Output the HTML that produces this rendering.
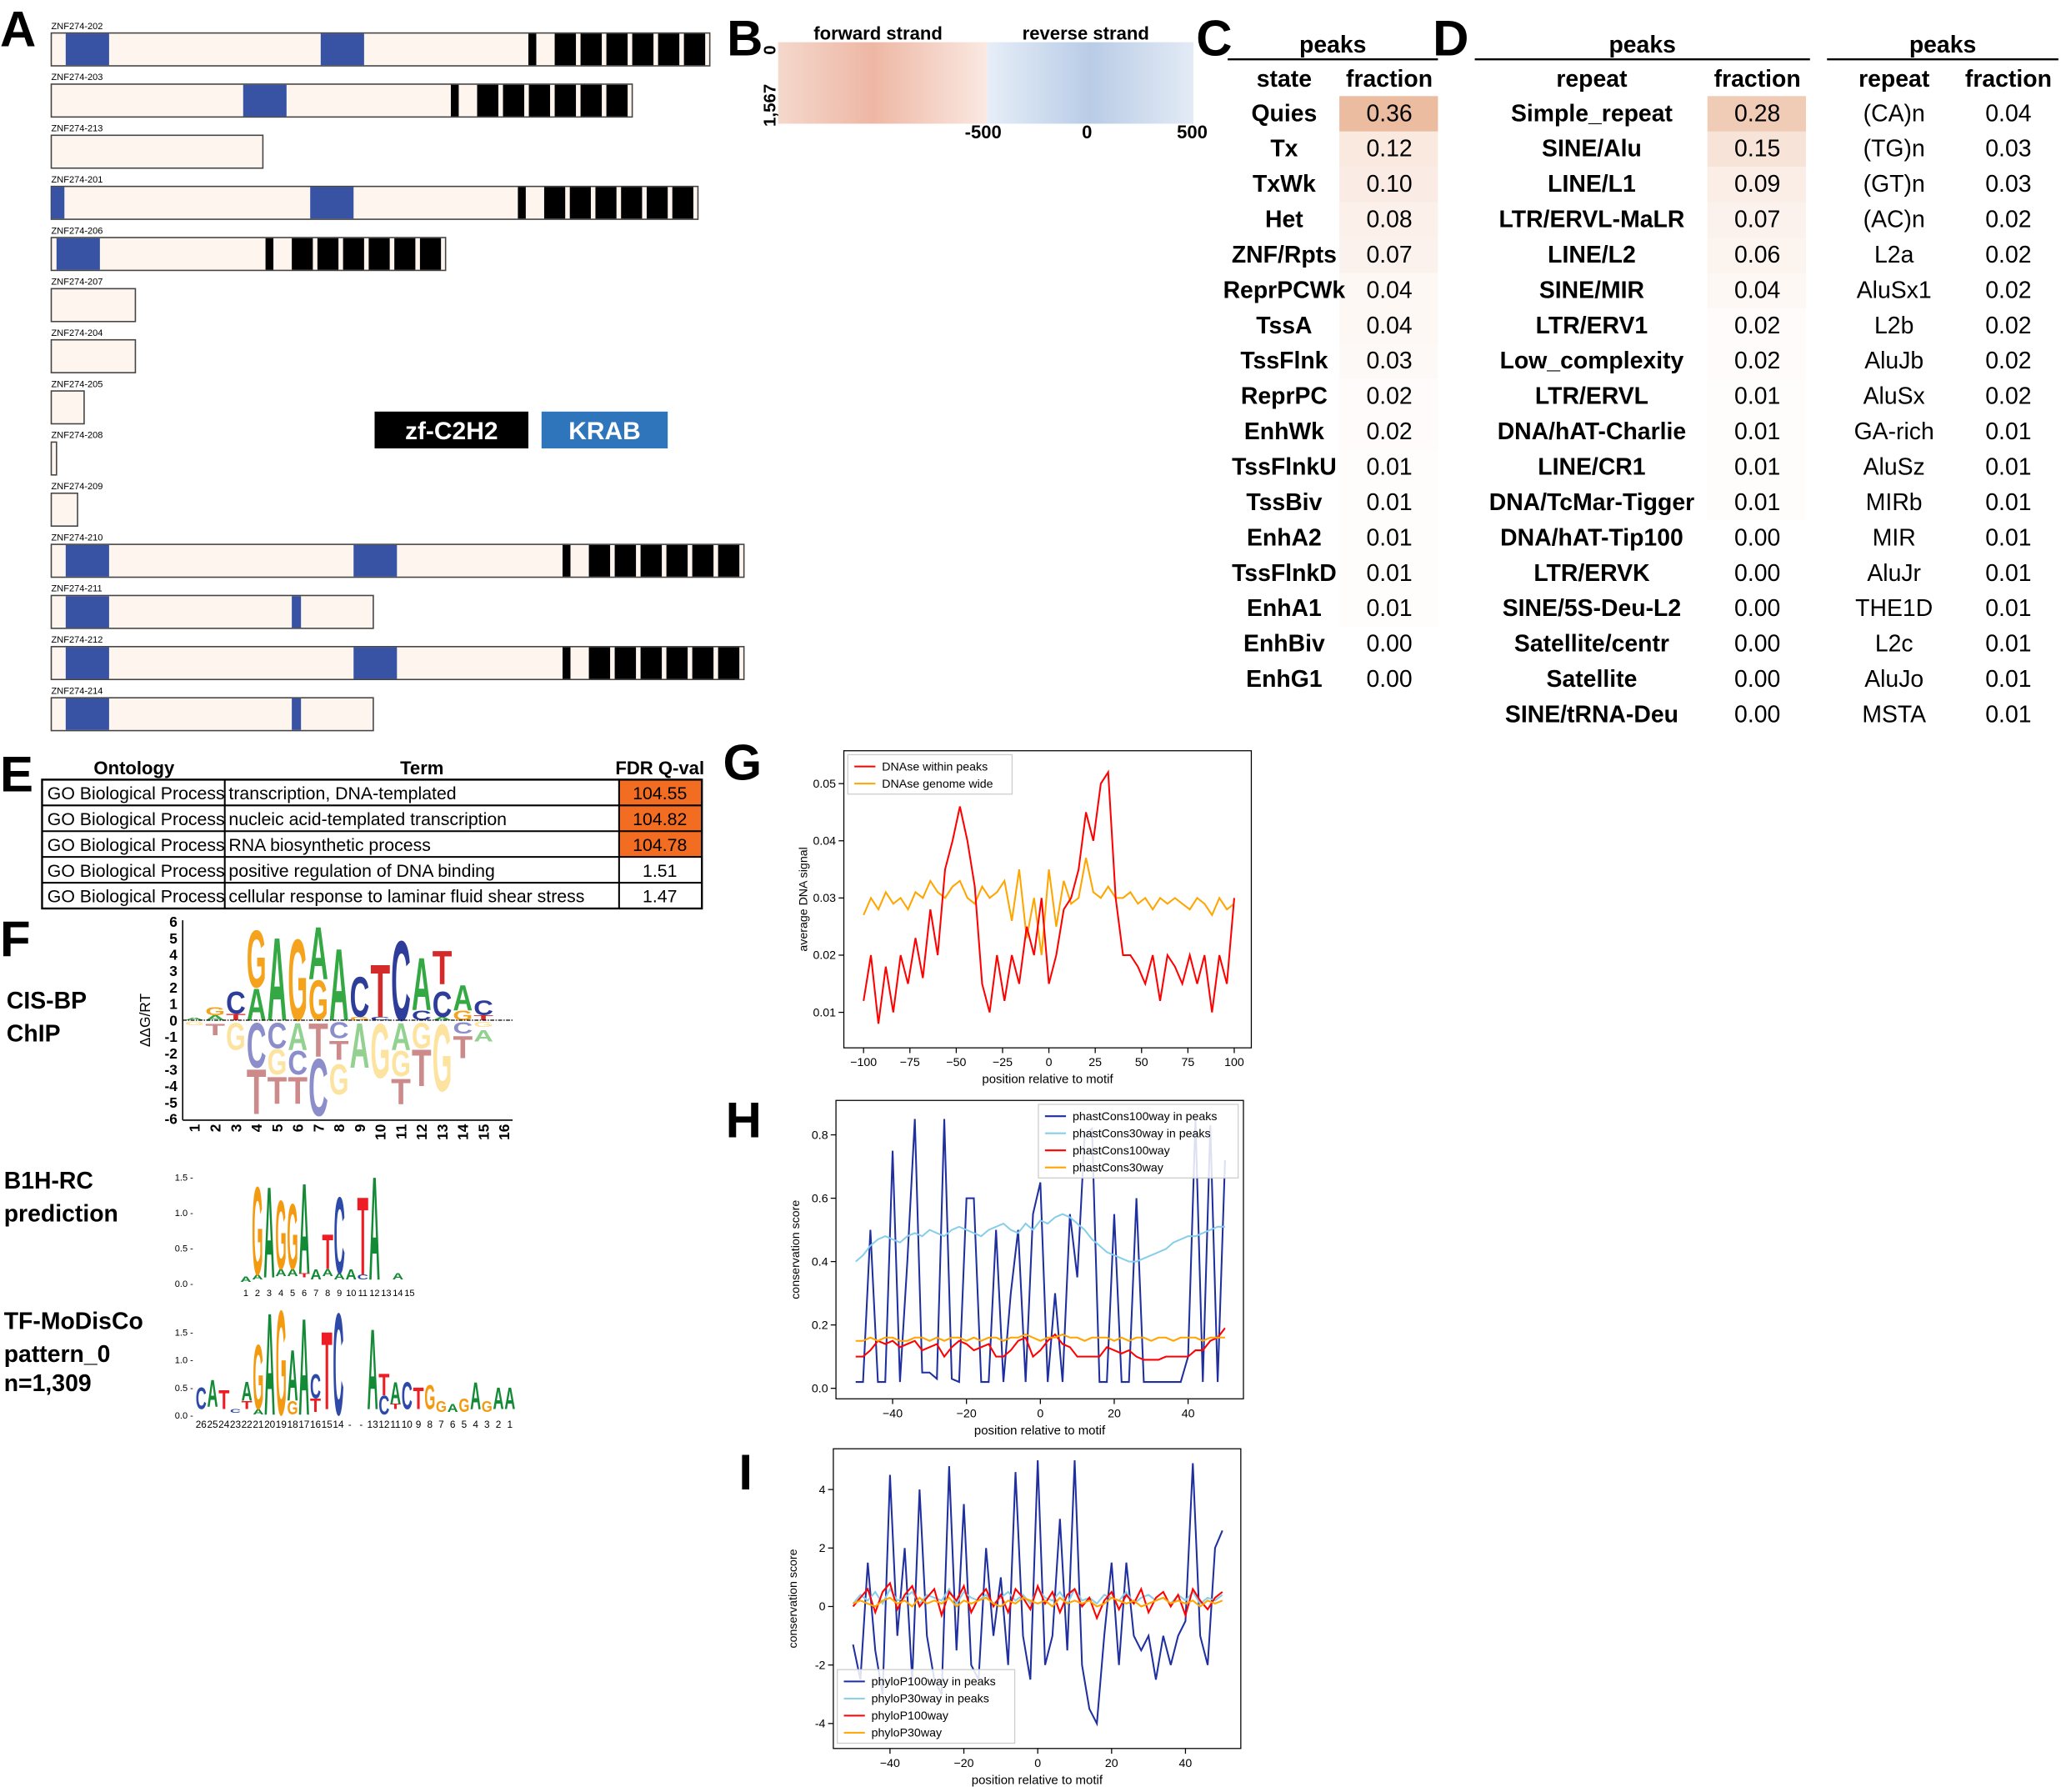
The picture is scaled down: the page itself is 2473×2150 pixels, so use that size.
<!DOCTYPE html>
<html><head><meta charset="utf-8"><style>
html,body{margin:0;padding:0;background:#fff}
svg{display:block}
text{font-family:"Liberation Sans",sans-serif}
</style></head><body>
<svg id="fig" width="2473" height="2150" viewBox="0 0 1568 1363" xmlns="http://www.w3.org/2000/svg">
<g id="panelA"></g>
<g id="panelB"></g>
<g id="panelC"></g>
<g id="panelD"></g>
<g id="panelE"></g>
<g id="panelF"></g>
<g id="panelG"></g>
<g id="panelH"></g>
<g id="panelI"></g>
</svg>
<script>
const NS="http://www.w3.org/2000/svg";
function el(p,tag,a,txt){const e=document.createElementNS(NS,tag);for(const k in a)e.setAttribute(k,a[k]);if(txt!==undefined)e.textContent=txt;p.appendChild(e);return e;}
const svg=document.getElementById('fig');
// panel letters
const letters=[["A",0,35],["B",553,42],["C",910,42],["D",1090,42],["E",0,602],["F",0,727],["G",550,593],["H",552,865],["I",562,1133]];
letters.forEach(l=>{const t=el(svg,'text',{x:l[1],y:l[2],'font-size':38,'font-weight':'bold'},l[0]);

});

// ===== Panel A =====
const isoNames=["ZNF274-202","ZNF274-203","ZNF274-213","ZNF274-201","ZNF274-206","ZNF274-207","ZNF274-204","ZNF274-205","ZNF274-208","ZNF274-209","ZNF274-210","ZNF274-211","ZNF274-212","ZNF274-214"];
const isoEnd=[540,481,200,531,339,103,103,64,43,59,566,284,566,284];
const isoKrab=[[[50,83],[244,277]],[[185,218]],[],[[39,49],[236,269]],[[43,76]],[],[],[],[],[],[[50,83],[269,302]],[[50,83],[222,229]],[[50,83],[269,302]],[[50,83],[222,229]]];
const isoZf=[402,343,null,394,202,null,null,null,null,null,428,null,428,null];
const gA=document.getElementById('panelA');
isoNames.forEach((n,i)=>{
 const y=20+i*38.9;
 const t=el(gA,'text',{x:39,y:y+2,'font-size':7},n);
 
 
 const r=el(gA,'rect',{x:39,y:y+5,width:isoEnd[i]-39,height:25,fill:'#fdf5ee',stroke:'#444','stroke-width':1});
 
 
 isoKrab[i].forEach(k=>{const b=el(gA,'rect',{x:k[0],y:y+5.5,width:k[1]-k[0],height:24,fill:'#3853a4'});
  
  });
 if(isoZf[i]!==null){const s=isoZf[i];
  const b0=el(gA,'rect',{x:s,y:y+5.5,width:6,height:24,fill:'#000'});
  
  
  const blk=(isoEnd[i]-s-20)/6;
  for(let j=0;j<6;j++){const b=el(gA,'rect',{x:s+20+j*blk,y:y+5.5,width:blk-3.5,height:24,fill:'#000'});
   
   }}
});
[["zf-C2H2",285,402,'#000'],["KRAB",412,508,'#2f75bb']].forEach(l=>{
 const r=el(gA,'rect',{x:l[1],y:313,width:l[2]-l[1],height:28,fill:l[3]});
 
 
 const t=el(gA,'text',{x:(l[1]+l[2])/2,y:334,'font-size':19,'font-weight':'bold',fill:'#fff','text-anchor':'middle'},l[0]);
 
 });

// ===== Panel B =====
const gB=document.getElementById('panelB');
const defs=el(svg,'defs',{});
const lgR=el(defs,'linearGradient',{id:'gr',x1:0,x2:1,y1:0,y2:0});
el(lgR,'stop',{offset:0,'stop-color':'#f4d8cc'});el(lgR,'stop',{offset:.45,'stop-color':'#eeb7a4'});el(lgR,'stop',{offset:1,'stop-color':'#fae9e2'});
const lgB=el(defs,'linearGradient',{id:'gb',x1:0,x2:1,y1:0,y2:0});
el(lgB,'stop',{offset:0,'stop-color':'#e6eef8'});el(lgB,'stop',{offset:.5,'stop-color':'#b9cce6'});el(lgB,'stop',{offset:1,'stop-color':'#e3ebf5'});
const hr=el(gB,'rect',{x:592,y:32,width:159,height:62,fill:'url(#gr)'});


const hb=el(gB,'rect',{x:751,y:32,width:157,height:62,fill:'url(#gb)'});


[["forward strand",668,30],["reverse strand",826,30],["-500",748,105],["0",827,105],["500",907,105]].forEach(l=>{
 const t=el(gB,'text',{x:l[1],y:l[2],'font-size':14,'font-weight':'bold','text-anchor':'middle'},l[0]);
 
 });
[["0",38],["1,567",80]].forEach(l=>{const t=el(gB,'text',{x:0,y:0,'font-size':13,'font-weight':'bold','text-anchor':'middle',transform:`translate(590,${l[1]}) rotate(-90)`},l[0]);
 
 });

// ===== Panel C/D tables =====
function heat(v,max){const a=Math.min(1,v/max);const r=Math.round(255-(255-236)*a),g=Math.round(255-(255-188)*a),b=Math.round(255-(255-160)*a);return `rgb(${r},${g},${b})`;}
const cStates=["Quies","Tx","TxWk","Het","ZNF/Rpts","ReprPCWk","TssA","TssFlnk","ReprPC","EnhWk","TssFlnkU","TssBiv","EnhA2","TssFlnkD","EnhA1","EnhBiv","EnhG1"];
const cFrac=[0.36,0.12,0.10,0.08,0.07,0.04,0.04,0.03,0.02,0.02,0.01,0.01,0.01,0.01,0.01,0.00,0.00];
const dRepeat=["Simple_repeat","SINE/Alu","LINE/L1","LTR/ERVL-MaLR","LINE/L2","SINE/MIR","LTR/ERV1","Low_complexity","LTR/ERVL","DNA/hAT-Charlie","LINE/CR1","DNA/TcMar-Tigger","DNA/hAT-Tip100","LTR/ERVK","SINE/5S-Deu-L2","Satellite/centr","Satellite","SINE/tRNA-Deu"];
const dFrac=[0.28,0.15,0.09,0.07,0.06,0.04,0.02,0.02,0.01,0.01,0.01,0.01,0.00,0.00,0.00,0.00,0.00,0.00];
const eRepeat=["(CA)n","(TG)n","(GT)n","(AC)n","L2a","AluSx1","L2b","AluJb","AluSx","GA-rich","AluSz","MIRb","MIR","AluJr","THE1D","L2c","AluJo","MSTA"];
const eFrac=[0.04,0.03,0.03,0.02,0.02,0.02,0.02,0.02,0.02,0.01,0.01,0.01,0.01,0.01,0.01,0.01,0.01,0.01];
function table(g,x0,x1,labX,fracX,cellX0,cellX1,hdr,labs,fr,bold,heatOn){
 let t=el(g,'text',{x:(x0+x1)/2,y:40,'font-size':18,'font-weight':'bold','text-anchor':'middle'},'peaks');
 
 
 el(g,'line',{x1:x0,x2:x1,y1:45,y2:45,stroke:'#000','stroke-width':1.5});
 t=el(g,'text',{x:labX,y:66,'font-size':18,'font-weight':'bold','text-anchor':'middle'},hdr);
 
 
 t=el(g,'text',{x:fracX,y:66,'font-size':18,'font-weight':'bold','text-anchor':'middle'},'fraction');
 
 
 labs.forEach((l,i)=>{const y=86+i*26.9;
  if(heatOn){const c=el(g,'rect',{x:cellX0,y:y-13,width:cellX1-cellX0,height:27,fill:heat(fr[i],0.36)});
   
   }
  let a=el(g,'text',{x:labX,y:y+6,'font-size':18,'font-weight':bold?'bold':'normal','text-anchor':'middle'},l);
  
  
  a=el(g,'text',{x:fracX,y:y+6,'font-size':18,'text-anchor':'middle'},fr[i].toFixed(2));
  
  });
}
table(document.getElementById('panelC'),934,1094,977,1057,1019,1094,'state',cStates,cFrac,true,true);
table(document.getElementById('panelD'),1122,1377,1211,1337,1299,1374,'repeat',dRepeat,dFrac,true,true);
table(document.getElementById('panelD'),1390,1566,1441,1528,0,0,'repeat',eRepeat,eFrac,false,false);

// ===== Panel E =====
const gE=document.getElementById('panelE');
const eTerms=["transcription, DNA-templated","nucleic acid-templated transcription","RNA biosynthetic process","positive regulation of DNA binding","cellular response to laminar fluid shear stress"];
const eQ=[104.55,104.82,104.78,1.51,1.47];
[["Ontology",102],["Term",321],["FDR Q-val",502]].forEach(h=>{const t=el(gE,'text',{x:h[1],y:589,'font-size':14,'font-weight':'bold','text-anchor':'middle'},h[0]);
 
 });
eTerms.forEach((term,i)=>{const y=593+i*19.6;
 const c=el(gE,'rect',{x:471,y:y,width:63,height:19.6,fill:eQ[i]>50?'#f26c22':'#fff'});
 
 
 let t=el(gE,'text',{x:36,y:y+15,'font-size':13.5},'GO Biological Process');
 
 
 t=el(gE,'text',{x:174,y:y+15,'font-size':13.5},term);
 
 
 t=el(gE,'text',{x:502,y:y+15,'font-size':13.5,'text-anchor':'middle'},eQ[i].toFixed(2));
 
 
 el(gE,'line',{x1:32,x2:534,y1:y,y2:y,stroke:'#000','stroke-width':1.3});});
el(gE,'rect',{x:32,y:593,width:502,height:98,fill:'none',stroke:'#000','stroke-width':1.5});
el(gE,'line',{x1:171,x2:171,y1:593,y2:691,stroke:'#000','stroke-width':1.3});
el(gE,'line',{x1:471,x2:471,y1:593,y2:691,stroke:'#000','stroke-width':1.3});

// ===== Panel F logos =====
const gF=document.getElementById('panelF');
const COL={A:'#33a843',C:'#2e3d9a',G:'#f5a31c',T:'#d42a2a'};
const COLF={A:'#92d18f',C:'#8c8ecb',G:'#fde3a0',T:'#cc8a8a'};
const COL2={A:'#138a36',C:'#2e4aa8',G:'#f49a10',T:'#ee1c24'};
// [column, letter, bottom, top] in logo units
const logo1=[[1,'A',0,0.15],[1,'G',-0.05,-0.3],[2,'A',0,0.3],[2,'G',0.3,0.8],[3,'T',0,0.4],[3,'C',0.4,1.8],[4,'A',0,2],[4,'G',2,5.6],[5,'A',0,5.2],[6,'G',0,5.1],[7,'G',0,2.5],[7,'A',2.5,5.8],[8,'A',0,4.5],[9,'G',0,0.2],[9,'C',0.2,2.7],[10,'C',0,0.2],[10,'T',0.2,3.5],[11,'C',0,5],[12,'C',0,0.6],[12,'A',0.6,3.9],[13,'A',0,0.2],[13,'C',0.2,1.8],[13,'T',2.2,4.3],[14,'G',0,0.6],[14,'A',0.6,2.2],[15,'T',0,0.3],[15,'C',0.3,1.2],
[2,'T',-0.2,-0.9],[3,'G',-0.1,-1.8],[4,'C',-0.1,-2.9],[4,'T',-2.9,-5.7],[5,'C',-0.1,-1.7],[5,'G',-1.7,-3.3],[5,'T',-3.4,-5.1],[6,'A',-0.1,-1.8],[6,'C',-1.8,-3.3],[6,'T',-3.4,-5.1],[7,'T',-0.1,-2.2],[7,'C',-2.2,-5.8],[8,'C',-0.1,-1.1],[8,'T',-1.2,-2.4],[8,'G',-2.6,-4.5],[9,'A',-0.1,-2.9],[10,'G',-0.1,-3.5],[11,'A',-0.1,-1.8],[11,'G',-1.8,-3.4],[11,'T',-3.5,-5.1],[12,'G',-0.1,-1.7],[12,'T',-1.7,-4],[13,'G',-0.1,-4.3],[14,'C',-0.1,-0.8],[14,'T',-0.9,-2.3],[15,'G',-0.1,-0.4],[15,'A',-0.6,-1.3]];
const logo2=[[1,'A',0.02,0.1],[2,'A',0.05,0.12],[2,'G',0.12,1.4],[3,'A',0.08,1.4],[4,'A',0.1,0.2],[4,'G',0.2,1.2],[5,'A',0.1,0.2],[5,'G',0.2,1.15],[6,'T',0.08,0.14],[6,'A',0.14,1.45],[7,'A',0.05,0.2],[8,'A',0.1,0.2],[8,'T',0.2,0.7],[9,'A',0.05,0.14],[9,'C',0.14,1.25],[10,'A',0.05,0.2],[11,'C',0.05,0.12],[11,'T',0.12,1.25],[12,'A',0.05,1.55],[14,'A',0.05,0.14]];
const logo3=[[0,'C',0.1,0.5],[1,'A',0.15,0.65],[2,'T',0.1,0.45],[3,'C',0.03,0.1],[4,'T',0.1,0.25],[4,'A',0.25,0.6],[5,'A',0,0.1],[5,'G',0.1,1.3],[6,'A',0,1.9],[7,'G',0,1.95],[8,'G',0,0.25],[8,'A',0.25,1.2],[9,'A',0,1.8],[10,'T',0.05,0.3],[10,'C',0.3,0.75],[11,'T',0.1,1.55],[12,'C',0,1.9],[15,'A',0.1,1.6],[16,'C',0,0.35],[16,'T',0.35,0.75],[17,'T',0.1,0.2],[17,'A',0.2,0.6],[18,'C',0.1,0.6],[19,'T',0.1,0.5],[20,'G',0.1,0.55],[21,'G',0.05,0.25],[22,'A',0.05,0.2],[23,'G',0.05,0.3],[24,'A',0.1,0.6],[25,'G',0.05,0.25],[26,'A',0.1,0.5],[27,'A',0.1,0.5]];
function drawLogo(data,xOf,yOf,w,colFn){
 data.forEach(d=>{const x=xOf(d[0]);const ya=yOf(d[2]),yb=yOf(d[3]);const top=Math.min(ya,yb),h=Math.abs(ya-yb);if(h<0.5)return;
  const fs=h/0.72;const t=el(gF,'text',{x:x-w/2,y:top+h,'font-size':fs,'font-weight':'bold',fill:colFn(d),textLength:w,lengthAdjust:'spacingAndGlyphs'},d[1]);
  
  });
}
const l1x=c=>148+(c-1)*15.7, l1y=v=>776-v*12.5;
drawLogo(logo1,l1x,l1y,15,d=>d[2]<0||d[3]<0?COLF[d[1]]:COL[d[1]]);
el(gF,'line',{x1:139,x2:390,y1:776,y2:776,stroke:'#000','stroke-width':0.8,'stroke-dasharray':'3,1,1,1'});
el(gF,'line',{x1:139,x2:139,y1:700,y2:852,stroke:'#000','stroke-width':1});
el(gF,'line',{x1:139,x2:390,y1:852,y2:852,stroke:'#000','stroke-width':1});
for(let v=-6;v<=6;v++){const t=el(gF,'text',{x:135,y:l1y(v)+4,'font-size':11,'font-weight':'bold','text-anchor':'end'},String(v));
 
 }
for(let c=1;c<=16;c++){const t=el(gF,'text',{x:0,y:0,'font-size':11,'font-weight':'bold','text-anchor':'end',transform:`translate(${l1x(c)+4},855) rotate(-90)`},String(c));
 
 }
let yl=el(gF,'text',{x:0,y:0,'font-size':11,'text-anchor':'middle',transform:'translate(114,776) rotate(-90)'},'ΔΔG/RT');


const l2x=c=>187+(c-1)*8.9, l2y=v=>976-v*54;
drawLogo(logo2,l2x,l2y,8.5,d=>COL2[d[1]]);
[[0,976],[0.5,949],[1,922],[1.5,895]].forEach(a=>{const t=el(gF,'text',{x:147,y:a[1]+3,'font-size':7,'text-anchor':'end'},a[0].toFixed(1)+' -');
 
 });
for(let c=1;c<=15;c++){const t=el(gF,'text',{x:l2x(c),y:986,'font-size':7,'text-anchor':'middle'},String(c));
 
 }
const l3x=i=>153+i*8.7, l3y=v=>1076-v*42;
drawLogo(logo3,l3x,l3y,8.3,d=>COL2[d[1]]);
[[0,1076],[0.5,1055],[1,1034],[1.5,1013]].forEach(a=>{const t=el(gF,'text',{x:147,y:a[1]+3,'font-size':7,'text-anchor':'end'},a[0].toFixed(1)+' -');
 
 });
const l3labels=["26","25","24","23","22","21","20","19","18","17","16","15","14","-","-","13","12","11","10","9","8","7","6","5","4","3","2","1"];
l3labels.forEach((s,i)=>{const t=el(gF,'text',{x:l3x(i),y:1086,'font-size':7.5,'text-anchor':'middle'},s);
 
 });
[["CIS-BP",5,767],["ChIP",5,792],["B1H-RC",3,904],["prediction",3,929],["TF-MoDisCo",3,1011],["pattern_0",3,1036],["n=1,309",3,1058]].forEach(l=>{
 const t=el(gF,'text',{x:l[1],y:l[2],'font-size':18,'font-weight':'bold'},l[0]);
 
 });

// ===== Line charts data =====
const gX=[-100,-96,-92,-88,-84,-80,-76,-72,-68,-64,-60,-56,-52,-48,-44,-40,-36,-32,-28,-24,-20,-16,-12,-8,-4,0,4,8,12,16,20,24,28,32,36,40,44,48,52,56,60,64,68,72,76,80,84,88,92,96,100];
const gRed=[.012,.02,.008,.018,.01,.02,.015,.023,.016,.028,.02,.035,.04,.046,.04,.032,.015,.01,.02,.012,.02,.015,.025,.02,.03,.015,.02,.028,.03,.035,.045,.04,.05,.052,.03,.02,.02,.018,.015,.02,.012,.02,.018,.015,.02,.015,.02,.01,.02,.015,.03];
const gOrange=[.027,.03,.028,.031,.029,.03,.028,.031,.03,.033,.031,.03,.032,.033,.03,.029,.032,.03,.031,.033,.026,.035,.023,.03,.02,.035,.025,.033,.029,.03,.037,.031,.03,.032,.03,.03,.031,.029,.03,.028,.03,.029,.03,.029,.028,.03,.029,.027,.03,.028,.029];
const gYTicks=[0.01,0.02,0.03,0.04,0.05];
const gXTicks=[-100,-75,-50,-25,0,25,50,75,100];
const hX=[-50,-48,-46,-44,-42,-40,-38,-36,-34,-32,-30,-28,-26,-24,-22,-20,-18,-16,-14,-12,-10,-8,-6,-4,-2,0,2,4,6,8,10,12,14,16,18,20,22,24,26,28,30,32,34,36,38,40,42,44,46,48,50];
const hBlue=[.02,.02,.5,.02,.02,.75,.02,.4,.85,.05,.05,.03,.85,.03,.02,.6,.6,.02,.02,.5,.02,.3,.5,.02,.55,.65,.02,.3,.02,.55,.35,.8,.82,.02,.02,.55,.02,.02,.6,.02,.02,.02,.02,.02,.02,.1,.85,.02,.83,.02,.72];
const hLight=[.40,.42,.45,.47,.48,.47,.46,.48,.49,.48,.50,.49,.48,.50,.51,.50,.49,.48,.50,.51,.52,.50,.49,.52,.50,.53,.52,.54,.55,.54,.52,.50,.47,.45,.43,.42,.41,.40,.40,.41,.42,.43,.44,.46,.47,.48,.48,.49,.50,.51,.51];
const hRed=[.1,.1,.12,.15,.14,.15,.13,.14,.15,.12,.13,.14,.1,.13,.15,.14,.12,.13,.14,.1,.1,.12,.15,.16,.1,.12,.15,.17,.14,.13,.1,.1,.1,.1,.13,.12,.11,.12,.1,.09,.09,.09,.1,.1,.1,.1,.12,.12,.15,.16,.19];
const hOrange=[.15,.15,.16,.15,.16,.16,.15,.15,.16,.16,.15,.16,.15,.16,.16,.15,.16,.15,.16,.16,.15,.16,.16,.17,.16,.15,.16,.16,.17,.16,.16,.15,.16,.16,.16,.15,.16,.15,.16,.16,.15,.16,.16,.15,.16,.16,.16,.15,.16,.16,.16];
const hYTicks=[0,0.2,0.4,0.6,0.8];
const hXTicks=[-40,-20,0,20,40];
const iX=hX;
const iBlue=[-1.3,-2.5,1.5,-1.5,-3,4.5,-1,2,-2.5,4,-1,-2.5,-3,4.8,-1.5,3.5,-2,-2.5,2,-1,1,-2,4.6,-1,-2.5,5,-2,-1,3,-1.5,5,-2,-3.5,-4,-1,1.5,-2,1.5,-1,-1.5,-1,-2.5,-1,-2,-1,-0.5,4.9,-1,-2,2,2.6];
const iLight=[.1,.4,.2,.5,.1,.6,.2,.3,.5,.1,.4,.3,.2,.6,.1,.5,.3,.2,.4,.1,.3,.5,.2,.4,.1,.6,.3,.2,.5,.1,.6,.2,.3,.1,.4,.3,.2,.5,.1,.3,.4,.2,.3,.1,.4,.2,.5,.1,.3,.2,.4];
const iRed=[0,.3,.6,-.2,.5,.8,-.1,.4,.7,0,.3,.6,-.3,.5,.2,.7,-.2,.3,.6,0,.4,-.2,.6,.3,-.1,.7,.1,.5,-.2,.4,.6,0,.3,-.4,.2,.5,-.1,.4,.1,.6,-.2,.3,.5,0,.4,-.3,.6,.2,-.1,.3,.5];
const iOrange=[.1,.2,.1,0,.2,.3,.1,.2,0,.3,.1,.2,.1,.3,0,.2,.1,.2,.3,.1,0,.2,.1,.3,.2,.1,.2,0,.3,.1,.2,.1,.2,0,.1,.3,.2,.1,.2,0,.1,.2,.3,.1,.2,.1,.2,0,.2,.1,.2];
const iYTicks=[-4,-2,0,2,4];
const iXTicks=[-40,-20,0,20,40];

function chart(g,box,xs,ys,series,xT,yT,yFmt,xlab,ylab,leg,legBox){
 const [L,T,R,B]=box;
 const f=el(g,'rect',{x:L,y:T,width:R-L,height:B-T,fill:'#fff',stroke:'#000','stroke-width':0.8});
 
 
 xT.forEach(v=>{const x=xs(v);el(g,'line',{x1:x,x2:x,y1:B,y2:B+4,stroke:'#000','stroke-width':.8});
  const t=el(g,'text',{x:x,y:B+14,'font-size':9,'text-anchor':'middle'},v<0?'−'+(-v):String(v));
  
  });
 yT.forEach(v=>{const y=ys(v);el(g,'line',{x1:L-4,x2:L,y1:y,y2:y,stroke:'#000','stroke-width':.8});
  const t=el(g,'text',{x:L-6,y:y+3,'font-size':9,'text-anchor':'end'},yFmt(v));
  
  });
 let t=el(g,'text',{x:(L+R)/2,y:B+27,'font-size':9.5,'text-anchor':'middle'},xlab);
 
 
 t=el(g,'text',{x:0,y:0,'font-size':9,'text-anchor':'middle',transform:`translate(${L-28},${(T+B)/2}) rotate(-90)`},ylab);
 
 
 series.forEach(s=>{const d=s.x.map((xv,i)=>(i?'L':'M')+xs(xv).toFixed(1)+','+ys(s.y[i]).toFixed(1)).join('');
  const p=el(g,'path',{d:d,fill:'none',stroke:s.c,'stroke-width':1.3});
  
  });
 const lb=el(g,'rect',{x:legBox[0],y:legBox[1],width:legBox[2],height:leg.length*13+4,fill:'#fff',stroke:'#ccc','stroke-width':.8,'fill-opacity':.85});
 
 
 leg.forEach((l,i)=>{const y=legBox[1]+9+i*13;el(g,'line',{x1:legBox[0]+5,x2:legBox[0]+21,y1:y,y2:y,stroke:l[1],'stroke-width':1.3});
  const tt=el(g,'text',{x:legBox[0]+26,y:y+3,'font-size':9},l[0]);
  
  });
}
chart(document.getElementById('panelG'),[642,571,952,797],v=>798+(v)*1.41,v=>813.5-v*4350,
 [{x:gX,y:gOrange,c:'#ffa500',n:'series-dnase-genome'},{x:gX,y:gRed,c:'#ff0000',n:'series-dnase-peaks'}],
 gXTicks,gYTicks,v=>v.toFixed(2),'position relative to motif','average DNA signal',
 [['DNAse within peaks','#ff0000'],['DNAse genome wide','#ffa500']],[645,574,125]);
chart(document.getElementById('panelH'),[636,837,946,1064],v=>791.5+v*2.81,v=>1056-v*241,
 [{x:hX,y:hBlue,c:'#1f2fa0',n:'series-phastcons100-peaks'},{x:hX,y:hLight,c:'#87ceeb',n:'series-phastcons30-peaks'},{x:hX,y:hRed,c:'#ff0000',n:'series-phastcons100'},{x:hX,y:hOrange,c:'#ffa500',n:'series-phastcons30'}],
 hXTicks,hYTicks,v=>v.toFixed(1),'position relative to motif','conservation score',
 [['phastCons100way in peaks','#1f2fa0'],['phastCons30way in peaks','#87ceeb'],['phastCons100way','#ff0000'],['phastCons30way','#ffa500']],[790,840,152]);
chart(document.getElementById('panelI'),[634,1102,944,1330],v=>789.5+v*2.81,v=>1222-v*22.25,
 [{x:iX,y:iBlue,c:'#1f2fa0',n:'series-phylop100-peaks'},{x:iX,y:iLight,c:'#87ceeb',n:'series-phylop30-peaks'},{x:iX,y:iRed,c:'#ff0000',n:'series-phylop100'},{x:iX,y:iOrange,c:'#ffa500',n:'series-phylop30'}],
 iXTicks,iYTicks,v=>String(v),'position relative to motif','conservation score',
 [['phyloP100way in peaks','#1f2fa0'],['phyloP30way in peaks','#87ceeb'],['phyloP100way','#ff0000'],['phyloP30way','#ffa500']],[637,1270,135]);
</script>
</body></html>
